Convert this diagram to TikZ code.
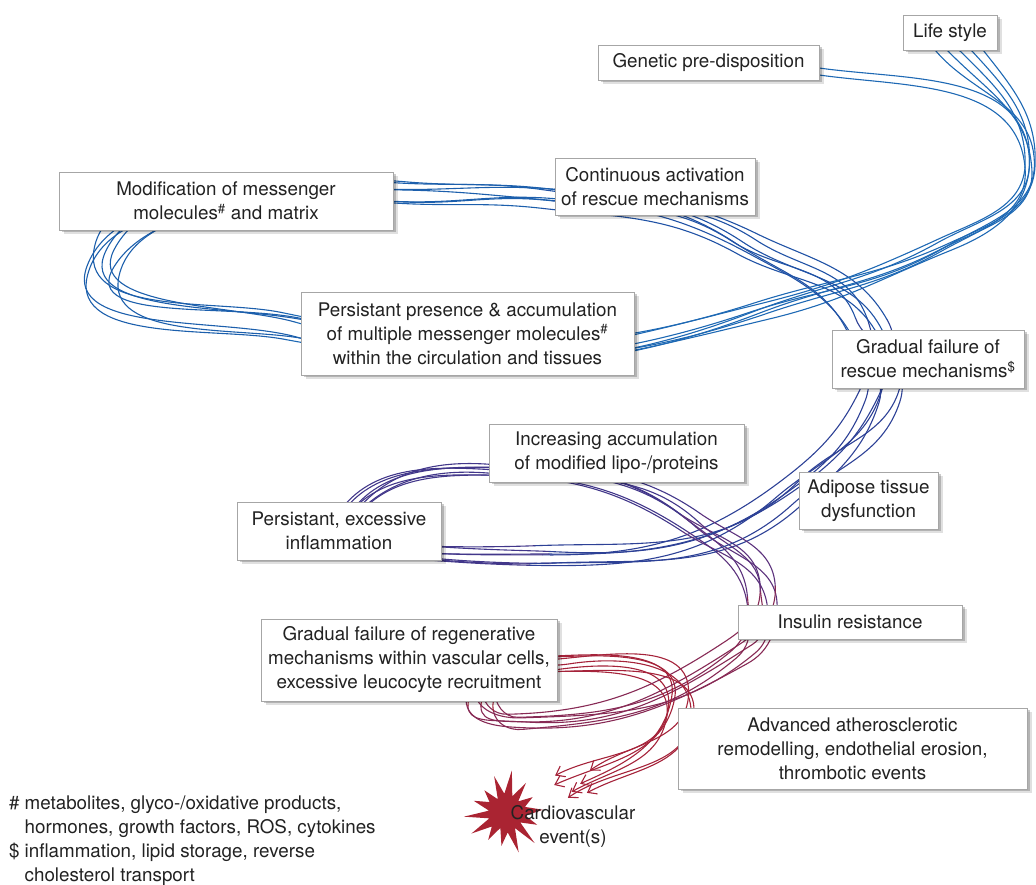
\documentclass[tikz,border=0pt]{standalone}
\usepackage{fontspec}
\setmainfont{TeX Gyre Heros}
\usetikzlibrary{arrows.meta,shadows}
\definecolor{cA}{RGB}{30,105,180}
\definecolor{cB}{RGB}{28,95,172}
\definecolor{cC}{RGB}{32,82,165}
\definecolor{cD}{RGB}{45,65,150}
\definecolor{cE}{RGB}{66,55,138}
\definecolor{cF}{RGB}{92,50,125}
\definecolor{cG}{RGB}{135,42,85}
\definecolor{cH}{RGB}{165,35,58}
\definecolor{cstar}{RGB}{170,36,50}
\definecolor{ctext}{RGB}{34,34,34}
\tikzset{
  box/.style={draw=black!35, line width=0.6pt, fill=white, text=ctext, align=center,
    inner sep=0pt, font=\fontsize{18.8}{24}\selectfont,
    general shadow={shadow xshift=4.5pt,shadow yshift=-4.5pt,fill=black,opacity=0.12},
    general shadow={shadow xshift=2.5pt,shadow yshift=-2.5pt,fill=black,opacity=0.2}},
  strand/.style={line width=1.1pt, line cap=round},
  plain/.style={text=ctext, font=\fontsize{18.8}{24}\selectfont, inner sep=0pt},
}
\newcommand\WP[7]{%
  \pgfmathsetmacro\wpdx{#4*sin(\i*97+#7*61)}%
  \pgfmathsetmacro\wpdy{0.8*#4*cos(\i*143+#7*37)}%
  \pgfmathsetmacro\wpa{#5+#6*sin(\i*71+#7*29)}%
  \pgfmathsetmacro\wpb{\wpa+180}%
  \coordinate (w#1) at ({#2+\wpdx},{885-#3+\wpdy});%
  \expandafter\xdef\csname wa#1\endcsname{\wpa}%
  \expandafter\xdef\csname wb#1\endcsname{\wpb}%
}
\begin{document}
\begin{tikzpicture}[x=1pt,y=1pt]
\useasboundingbox (0,0) rectangle (1036,885);
% ---------- strands ----------
\foreach \i in {0,...,6}{
  \ifnum\i<5
    \pgfmathsetmacro\sx{935+12*\i}
    \coordinate (wS) at (\sx,835);
    \pgfmathsetmacro\waS{-50+5*sin(\i*50)}
  \else
    \pgfmathsetmacro\sy{885-68-7*(\i-5)}
    \coordinate (wS) at (819,\sy);
    \pgfmathsetmacro\waS{-8}
  \fi
  \WP{A}{1030}{165}{5}{-90}{4}{1}
  \WP{Ab}{945}{245}{8}{206}{4}{2}
  \WP{B}{760}{310}{11}{197}{4}{3}
  \WP{C}{300}{327}{18}{165}{5}{4}
  \WP{D}{102}{262}{18}{70}{12}{5}
  \WP{E}{392}{193}{14}{-3}{2}{6}
  \WP{F}{555}{198}{13}{-6}{2}{7}
  \WP{G}{745}{245}{14}{-30}{4}{8}
  \WP{H}{870}{332}{20}{-65}{5}{9}
  \WP{I}{883}{390}{18}{-108}{5}{10}
  \WP{J}{790}{492}{16}{-140}{5}{11}
  \WP{K}{540}{556}{13}{180}{3}{12}
  \WP{L}{340}{528}{8}{60}{5}{13}
  \WP{M}{490}{470}{7}{-3}{3}{14}
  \WP{N}{690}{522}{12}{-38}{5}{15}
  \WP{O}{762}{598}{15}{-88}{6}{16}
  \WP{P}{740}{652}{15}{-145}{6}{17}
  \WP{Q}{515}{722}{10}{180}{5}{18}
  \WP{R}{480}{700}{14}{95}{6}{19}
  \WP{T}{560}{664}{10}{5}{4}{20}
  \WP{U}{680}{705}{15}{-95}{6}{21}
  \WP{V}{572}{784}{18}{-150}{6}{22}
  \draw[strand,cA] (wS) to[out=\waS,in=\wbA] (wA) to[out=\waA,in=\wbAb] (wAb)
     to[out=\waAb,in=\wbB] (wB) to[out=\waB,in=\wbC] (wC);
  \draw[strand,cB] (wC) to[out=\waC,in=\wbD,looseness=0.85] (wD)
     to[out=\waD,in=\wbE,looseness=0.75] (wE)
     to[out=\waE,in=\wbF] (wF);
  \draw[strand,cC] (wF) to[out=\waF,in=\wbG] (wG) to[out=\waG,in=\wbH] (wH);
  \draw[strand,cD] (wH) to[out=\waH,in=\wbI] (wI) to[out=\waI,in=\wbJ] (wJ)
     to[out=\waJ,in=\wbK] (wK);
  \draw[strand,cE] (wK) to[out=\waK,in=\wbL,looseness=0.4] (wL)
     to[out=\waL,in=\wbM] (wM) to[out=\waM,in=\wbN] (wN);
  \draw[strand,cF] (wN) to[out=\waN,in=\wbO] (wO);
  \draw[strand,cG] (wO) to[out=\waO,in=\wbP] (wP) to[out=\waP,in=\wbQ] (wQ)
     to[out=\waQ,in=\wbR] (wR);
  \draw[strand,cH,-{Straight Barb[length=8pt,width=12pt]}] (wR) to[out=\waR,in=\wbT] (wT)
     to[out=\waT,in=\wbU] (wU) to[out=\waU,in=\wbV] (wV);
}
% ---------- star ----------
\fill[cstar] plot[domain=0:27, samples=28, variable=\k]
  ({506+(mod(\k,2)<0.5 ? 37+6*sin(\k*137) : 18+2*sin(\k*71))*cos(\k*360/28+5)},
   {72+(mod(\k,2)<0.5 ? 37+6*sin(\k*137) : 18+2*sin(\k*71))*sin(\k*360/28+5)}) -- cycle;
% ---------- boxes ----------
\node[box, minimum width=94pt, minimum height=35pt] (life) at (950,852.5) {Life style};
\node[box, minimum width=221pt, minimum height=35pt] (genetic) at (708.5,822.5) {Genetic pre-disposition};
\node[box, minimum width=200pt, minimum height=57pt] (contin) at (655,698.5) {Continuous activation\\of rescue mechanisms};
\node[box, minimum width=334pt, minimum height=58pt] (modif) at (226,684) {Modification of messenger\\molecules\textsuperscript{\#} and matrix};
\node[box, minimum width=333pt, minimum height=83pt] (presence) at (467.5,551.5) {Persistant presence \& accumulation\\of multiple messenger molecules\textsuperscript{\#}\\within the circulation and tissues};
\node[box, minimum width=192pt, minimum height=58pt] (rescue) at (928,526) {Gradual failure of\\rescue mechanisms\textsuperscript{\$}};
\node[box, minimum width=255pt, minimum height=58pt] (increase) at (616.5,432) {Increasing accumulation\\of modified lipo-/proteins};
\node[box, minimum width=139pt, minimum height=57pt] (adipose) at (868.5,384.5) {Adipose tissue\\dysfunction};
\node[box, minimum width=204pt, minimum height=58pt] (inflam) at (339,354) {Persistant, excessive\\inflammation};
\node[box, minimum width=224pt, minimum height=34pt] (insulin) at (850,263) {Insulin resistance};
\node[box, minimum width=296pt, minimum height=82pt] (regen) at (409,225) {Gradual failure of regenerative\\mechanisms within vascular cells,\\excessive leucocyte recruitment};
\node[box, minimum width=349pt, minimum height=81pt] (advanced) at (852.5,136.5) {Advanced atherosclerotic\\remodelling, endothelial erosion,\\thrombotic events};
% ---------- texts ----------
\node[plain, align=center] (event) at (573,59) {Cardiovascular\\event(s)};
\node[plain, anchor=north west] (notes) at (9,92) {\begin{tabular}{@{}l@{\hspace{5pt}}l@{}}
\#& metabolites, glyco-/oxidative products,\\
  & hormones, growth factors, ROS, cytokines\\
\$& inflammation, lipid storage, reverse\\
  & cholesterol transport\end{tabular}};
\end{tikzpicture}
\end{document}
